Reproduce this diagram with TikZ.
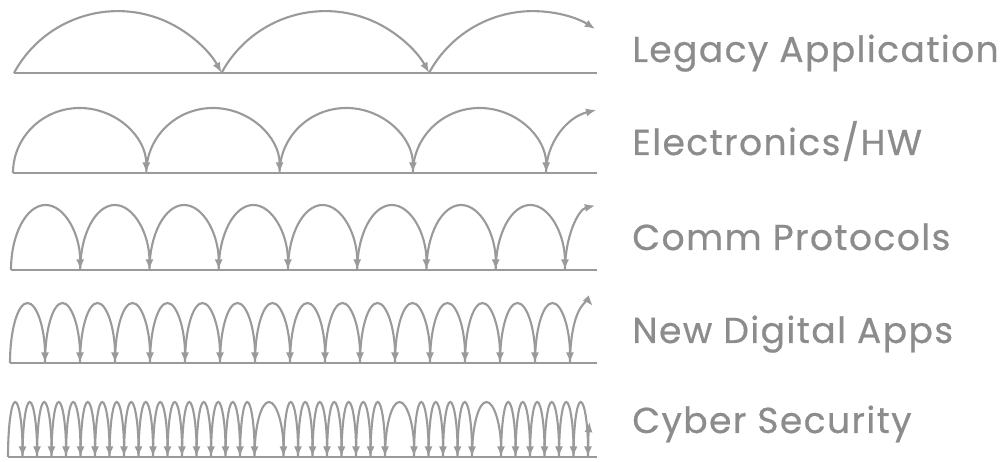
\documentclass[tikz,border=0pt]{standalone}
\usepackage{fontspec}
\setmainfont{Poppins}[LetterSpace=4, FakeBold=0.6]
\usetikzlibrary{arrows.meta}
\definecolor{hopgray}{HTML}{9A9A9A}
\definecolor{labelgray}{HTML}{8C8C8C}

\begin{document}
\begin{tikzpicture}[
  x=0.02cm,
  y=0.02cm,
  every node/.style={font=\fontsize{20.5}{24}\selectfont, labelgray},
  track/.style={hopgray, line width=1.4pt},
  hop/.style={hopgray, line width=1.2pt, -{Latex[length=6pt, width=4.6pt]}},
  rowlabel/.style={anchor=base west, inner sep=0pt}
]
  % ---- bounding box ----------------------------------------------------
  \useasboundingbox (0,0) rectangle (1005,462);

  % ---- legacy application: 3 hops -------------------------------------
  \draw[track] (14,389) -- (597,389);
  \foreach \i in {0,1}
    \draw[hop] (14+207.5*\i,389) arc[start angle=151.6, end angle=28.4, radius=118];
  \draw[hop] (429,389) arc[start angle=151.6, end angle=58, radius=118];
  \node[rowlabel] (legacy) at (632,400) {Legacy Application};

  % ---- electronics / hw: 5 hops ---------------------------------------
  \draw[track] (13,289) -- (597,289);
  \foreach \i in {0,...,3}
    \draw[hop] (13+133.3*\i,289) arc[start angle=180, end angle=0, x radius=66.65, y radius=65];
  \draw[hop] (546,289) arc[start angle=180, end angle=104, x radius=66.65, y radius=65];
  \node[rowlabel] (hw) at (632,307) {Electronics/HW};

  % ---- comm protocols: 9 hops -----------------------------------------
  \draw[track] (11,192) -- (597,192);
  \foreach \i in {0,...,7}
    \draw[hop] (11+69.25*\i,192) arc[start angle=180, end angle=0, x radius=34.6, y radius=65];
  \draw[hop] (565,192) arc[start angle=180, end angle=97, x radius=34.6, y radius=65];
  \node[rowlabel] (comm) at (632,212) {Comm Protocols};

  % ---- new digital apps: 17 hops --------------------------------------
  \draw[track] (10,99) -- (597,99);
  \foreach \i in {0,...,15}
    \draw[hop] (10+35*\i,99) arc[start angle=180, end angle=0, x radius=17.5, y radius=60];
  \draw[hop] (570,99) arc[start angle=180, end angle=72, x radius=17.5, y radius=60];
  \node[rowlabel] (apps) at (632,119) {New Digital Apps};

  % ---- cyber security: many short hops, three long ones ---------------
  \draw[track] (8,5) -- (597,5);
  \foreach \i in {0,...,16}
    \draw[hop] (8+14.5*\i,5) arc[start angle=180, end angle=0, x radius=7.25, y radius=55];
  \draw[hop] (254.5,5) arc[start angle=180, end angle=0, x radius=14.5, y radius=55];
  \foreach \i in {0,...,6}
    \draw[hop] (283.5+14.5*\i,5) arc[start angle=180, end angle=0, x radius=7.25, y radius=55];
  \draw[hop] (385,5) arc[start angle=180, end angle=0, x radius=14.5, y radius=55];
  \foreach \i in {0,...,3}
    \draw[hop] (414+14.5*\i,5) arc[start angle=180, end angle=0, x radius=7.25, y radius=55];
  \draw[hop] (472,5) arc[start angle=180, end angle=0, x radius=14.5, y radius=55];
  \foreach \i in {0,...,5}
    \draw[hop] (501+14.5*\i,5) arc[start angle=180, end angle=0, x radius=7.25, y radius=55];
  \draw[hop] (588,5) arc[start angle=180, end angle=140, x radius=7.25, y radius=55];
  \node[rowlabel] (cyber) at (632,29) {Cyber Security};
\end{tikzpicture}
\end{document}
